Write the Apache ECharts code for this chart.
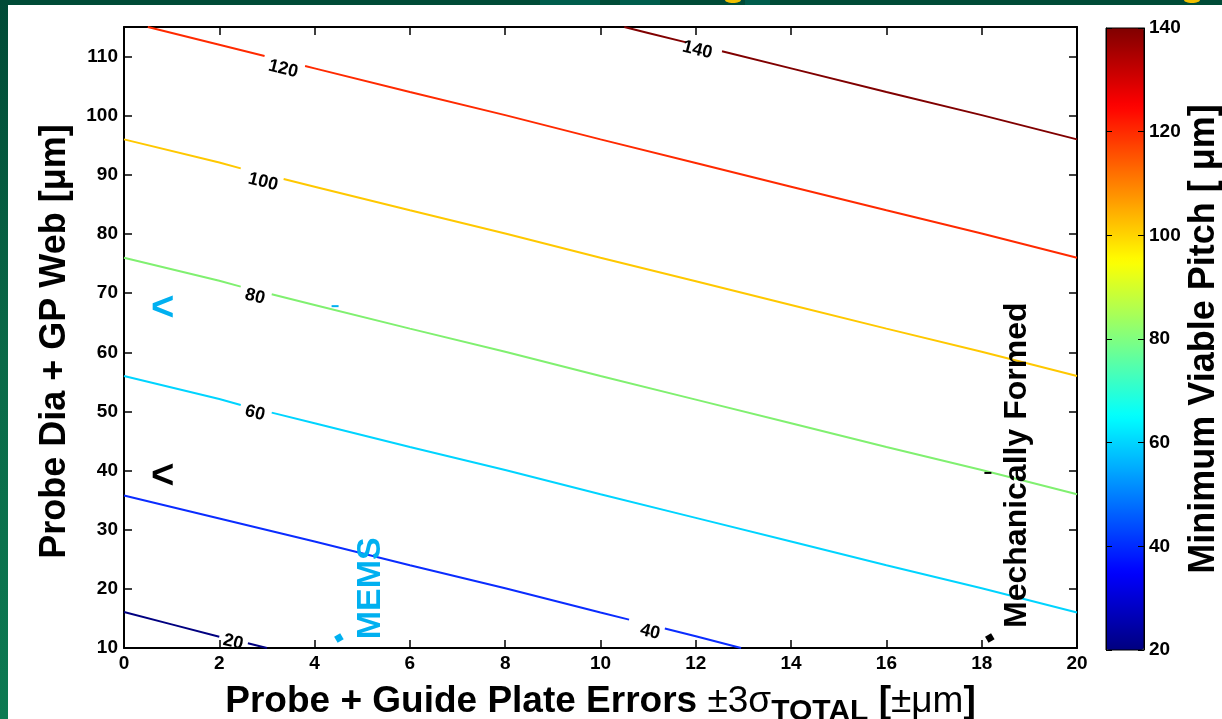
<!DOCTYPE html>
<html><head><meta charset="utf-8">
<script src="https://cdn.jsdelivr.net/npm/echarts@6/dist/echarts.min.js"></script>
<style>html,body{margin:0;padding:0;background:#fff}#c{width:1222px;height:719px}</style>
</head><body><div id="c"></div>
<script>
// ---- data ----
const contourLevels = [20, 40, 60, 80, 100, 120, 140];
// contour polylines [x, y]; null marks a break where the contour label sits
const c20  = [[0,16.1],[1,14.0],[2.0,11.9], null, [2.6,10.8],[3.0,10.0]];
const c40  = [[0,35.8],[2,31.9],[4,28.0],[6,24.0],[8,20.1],[10,16.0],[10.6,14.8], null, [11.35,13.3],[12,12.0],[12.95,10.0]];
const c60  = [[0,56.0],[2,52.1],[2.45,51.1], null, [3.1,49.8],[4,48.0],[6,44.0],[8,40.1],[10,36.0],[12,32.0],[14,28.0],[16,24.0],[18,20.1],[20,16.0]];
const c80  = [[0,76.0],[2,72.1],[2.45,71.1], null, [3.1,69.8],[4,68.0],[6,64.0],[8,60.1],[10,56.0],[12,52.0],[14,48.0],[16,44.0],[18,40.1],[20,36.0]];
const c100 = [[0,96.0],[2,92.1],[2.45,91.1], null, [3.35,89.3],[4,88.0],[6,84.0],[8,80.1],[10,76.0],[12,72.0],[14,68.0],[16,64.0],[18,60.1],[20,56.0]];
const c120 = [[0.5,115],[2,112.0],[2.95,110.1], null, [3.8,108.4],[4,108.0],[6,104.0],[8,100.1],[10,96.0],[12,92.0],[14,88.0],[16,84.0],[18,80.1],[20,76.0]];
const c140 = [[10.5,115],[11.0,114.0],[11.8,112.4], null, [12.55,110.9],[14,108.0],[16,104.0],[18,100.1],[20,96.0]];
const contours = [c20, c40, c60, c80, c100, c120, c140];
// contour label positions [x, y]
const labelPos = [[2.29,11.0],[11.04,12.7],[2.75,49.7],[2.75,69.4],[2.92,88.8],[3.34,107.9],[12.03,111.1]];
// axis ranges / ticks
const xRange = [0, 20], xStep = 2;
const yRange = [10, 115], yStep = 10;
const cbarRange = [20, 140], cbarStep = 20;
// annotations [x, y]
const memsPos = [5.18, 20.1], mechPos = [18.74, 40.9];
const arrowCyanPos = [0.81, 67.4], arrowBlackPos = [0.81, 38.9];
const dashCyanPos = [4.43, 67.8], dashBlackPos = [18.13, 39.6];
const dotCyanPos = [4.51, 11.7], dotBlackPos = [18.17, 11.7];

// ---- styles ----
const FONT = 'Liberation Sans, Arial, sans-serif';
const lineColors = ['#000080','#0a2cff','#00d4ff','#80f070','#ffc800','#ff2a00','#800000'];
const jet = ['#000080','#0000ff','#0080ff','#00ffff','#80ff80','#ffff00','#ff8000','#ff0000','#800000'];
const CYAN = '#00b0f0';

function splitSegs(arr){
  const segs=[]; let cur=[];
  arr.forEach(p=>{ if(p===null){ if(cur.length) segs.push(cur); cur=[]; } else cur.push(p); });
  if(cur.length) segs.push(cur);
  return segs;
}

const series = [];
contours.forEach((c,i)=>{
  splitSegs(c).forEach(seg=>{
    series.push({type:'line', xAxisIndex:0, yAxisIndex:0, data:seg, showSymbol:false, symbol:'none',
      lineStyle:{color:lineColors[i], width:2}, silent:true, z:3, animation:false});
  });
});
series.push({type:'scatter', xAxisIndex:0, yAxisIndex:0, symbolSize:0, silent:true, z:4, animation:false,
  itemStyle:{opacity:1},
  data: labelPos.map((p,i)=>({value:p, name:String(contourLevels[i])})),
  label:{show:true, position:'inside', formatter:'{b}', rotate:-14, color:'#000', fontSize:18, fontWeight:'bold', fontFamily:FONT}
});
const txt = (pos,name,st)=>({value:pos, name:name, label:Object.assign({show:true, position:'inside', formatter:'{b}', fontFamily:FONT}, st)});
series.push({type:'scatter', xAxisIndex:0, yAxisIndex:0, symbolSize:0, silent:true, z:5, animation:false,
  itemStyle:{opacity:1},
  data:[
    txt(memsPos,'MEMS',{rotate:90, color:CYAN, fontSize:34, fontWeight:'bold'}),
    txt(mechPos,'Mechanically Formed',{rotate:90, color:'#000', fontSize:32, fontWeight:'bold'}),
    txt(arrowCyanPos,'<',{color:CYAN, fontSize:40, fontWeight:'bold'}),
    txt(arrowBlackPos,'<',{color:'#000', fontSize:40, fontWeight:'bold'})
  ]
});
series.push({type:'scatter', xAxisIndex:0, yAxisIndex:0, silent:true, z:5, animation:false, symbol:'rect',
  itemStyle:{opacity:1},
  data:[
    {value:dashCyanPos, symbolSize:[7,2], itemStyle:{color:CYAN}},
    {value:dashBlackPos, symbolSize:[7,2], itemStyle:{color:'#000'}},
    {value:dotCyanPos, symbolSize:7, symbolRotate:30, itemStyle:{color:CYAN}},
    {value:dotBlackPos, symbolSize:7, symbolRotate:30, itemStyle:{color:'#000'}}
  ]
});
// dummy series for the colour bar
series.push({type:'scatter', xAxisIndex:2, yAxisIndex:2, data:[], silent:true});
const dummyIdx = series.length-1;

const axLine = ()=>({show:true, onZero:false, lineStyle:{color:'#000', width:2}});
const tick = ()=>({show:true, inside:true, length:8, lineStyle:{color:'#000', width:1.5}});
const lbl = (m)=>({margin:m, color:'#000', fontWeight:'bold', fontSize:19, fontFamily:FONT});

const option = {
  backgroundColor:'#fff',
  animation:false,
  graphic:[
    {type:'rect', shape:{x:0,y:0,width:1222,height:5}, style:{fill:'#004b37'}, silent:true},
    {type:'rect', shape:{x:540,y:0,width:60,height:5}, style:{fill:'#005d4c'}, silent:true},
    {type:'rect', shape:{x:620,y:0,width:40,height:5}, style:{fill:'#005d4c'}, silent:true},
    {type:'rect', shape:{x:745,y:0,width:25,height:5}, style:{fill:'#005d4c'}, silent:true},
    {type:'ellipse', shape:{cx:733,cy:0,rx:8,ry:3}, style:{fill:'#f0c000'}, silent:true},
    {type:'ellipse', shape:{cx:1192,cy:0,rx:8,ry:3}, style:{fill:'#f0c000'}, silent:true},
    {type:'rect', shape:{x:0,y:0,width:8,height:719}, silent:true,
      style:{fill:new echarts.graphic.LinearGradient(0,0,0,1,[{offset:0,color:'#004a36'},{offset:0.5,color:'#0a6a48'},{offset:1,color:'#0c7a52'}])}}
  ],
  grid:[
    {left:124, top:27, width:953, height:621, show:false, outerBoundsMode:'none', containLabel:false},
    {left:1106, top:28, width:38, height:622, show:true, borderColor:'#000', borderWidth:1, backgroundColor:'transparent', z:6, outerBoundsMode:'none', containLabel:false}
  ],
  xAxis:[
    {type:'value', gridIndex:0, min:xRange[0], max:xRange[1], interval:xStep, position:'bottom',
      axisLine:axLine(), axisTick:tick(), splitLine:{show:false}, axisLabel:lbl(6),
      name:'{b|Probe + Guide Plate Errors }{r|±3σ}{s|TOTAL}{b| [}{r|±μm}{b|]}', nameLocation:'middle', nameGap:35,
      nameTextStyle:{rich:{
        b:{fontSize:37, fontWeight:'bold', color:'#000', fontFamily:FONT, lineHeight:44, verticalAlign:'top'},
        r:{fontSize:37, fontWeight:'normal', color:'#000', fontFamily:FONT, lineHeight:44, verticalAlign:'top'},
        s:{fontSize:30, fontWeight:'bold', color:'#000', fontFamily:FONT, lineHeight:30, verticalAlign:'bottom'}
      }}},
    {type:'value', gridIndex:0, min:xRange[0], max:xRange[1], interval:xStep, position:'top',
      axisLine:axLine(), axisTick:tick(), splitLine:{show:false}, axisLabel:{show:false}},
    {type:'value', gridIndex:1, min:0, max:1, show:false}
  ],
  yAxis:[
    {type:'value', gridIndex:0, min:yRange[0], max:yRange[1], interval:yStep, position:'left',
      axisLine:axLine(), axisTick:tick(), splitLine:{show:false},
      axisLabel:Object.assign(lbl(6), {formatter:v=> (v%10===0 ? String(v) : '')}),
      name:'Probe Dia + GP Web [μm]', nameLocation:'middle', nameGap:51,
      nameTextStyle:{fontSize:36, fontWeight:'bold', color:'#000', fontFamily:FONT, padding:[0,8,0,0]}},
    {type:'value', gridIndex:0, min:yRange[0], max:yRange[1], interval:yStep, position:'right',
      axisLine:axLine(), axisTick:tick(), splitLine:{show:false}, axisLabel:{show:false}},
    {type:'value', gridIndex:1, min:cbarRange[0], max:cbarRange[1], interval:cbarStep, position:'right', z:6,
      axisLine:{show:true, onZero:false, lineStyle:{color:'#000', width:1}},
      axisTick:{show:true, inside:true, length:6, lineStyle:{color:'#000', width:1}},
      splitLine:{show:false}, axisLabel:lbl(5),
      name:'Minimum Viable Pitch [ μm]', nameLocation:'middle', nameGap:42, nameRotate:90,
      nameTextStyle:{fontSize:36, fontWeight:'bold', color:'#000', fontFamily:FONT}},
    {type:'value', gridIndex:1, min:cbarRange[0], max:cbarRange[1], interval:cbarStep, position:'left', z:6,
      axisLine:{show:true, onZero:false, lineStyle:{color:'#000', width:1}},
      axisTick:{show:true, inside:true, length:6, lineStyle:{color:'#000', width:1}},
      splitLine:{show:false}, axisLabel:{show:false}}
  ],
  visualMap:[{type:'continuous', min:cbarRange[0], max:cbarRange[1], seriesIndex:dummyIdx, orient:'vertical',
    left:1106, top:28, itemWidth:38, itemHeight:622, calculable:false, padding:0, text:null, z:1,
    inRange:{color:jet}, textStyle:{color:'transparent'}}],
  series:series
};
const chart = echarts.init(document.getElementById('c'), null, {renderer:'canvas'});
chart.setOption(option);
</script></body></html>
